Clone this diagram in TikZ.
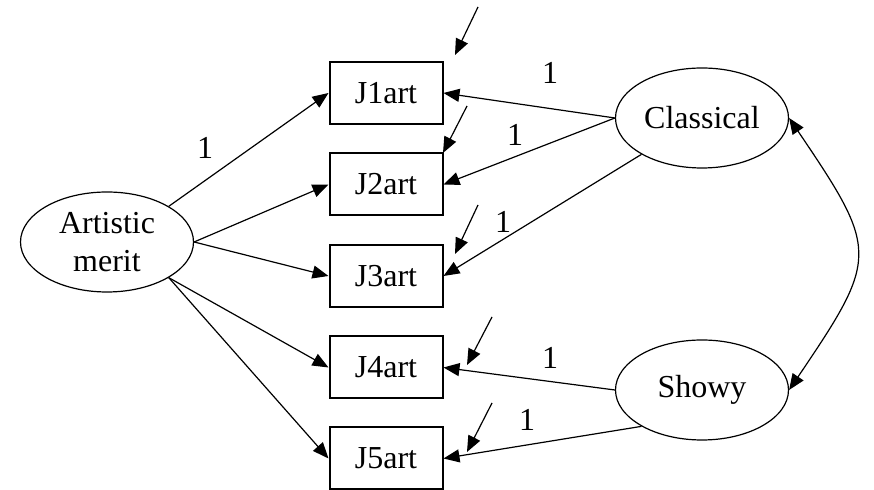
\documentclass[tikz,border=0pt]{standalone}
\usepackage{fontspec}
\setmainfont{Liberation Serif}
\usetikzlibrary{arrows.meta,shapes.geometric}

\begin{document}
\begin{tikzpicture}[x=0.5pt,y=-0.5pt,font=\fontsize{16}{19}\selectfont,
    >={Triangle[length=8pt,width=6.5pt]},
    obsbox/.style={draw,line width=1pt,minimum width=56.5pt,minimum height=31pt,inner sep=0pt},
    latent/.style={draw,ellipse,line width=0.6pt,minimum width=86.5pt,minimum height=50pt,inner sep=0pt,align=center},
    load/.style={->,line width=0.6pt}]
\useasboundingbox (0,0) rectangle (874,490);
% latent factors
\node[latent] (art) at (107,242) {Artistic\\merit};
\node[latent] (cla) at (702,118) {Classical};
\node[latent] (sho) at (702,390) {Showy};
% judges
\foreach \i/\y in {1/93,2/184.5,3/276,4/367.5,5/458.5} {
    \node[obsbox] (j\i) at (386,\y) {J\i art};
}
% loadings
\draw[load] (art.30) -- (j1.west);
\draw[load] (art.east) -- (j2.west);
\draw[load] (art.east) -- (j3.west);
\draw[load] (art.-30) -- (j4.west);
\draw[load] (art.-30) -- (j5.west);
\draw[load] (cla.west) -- (j1.east);
\draw[load] (cla.west) -- (j2.east);
\draw[load] (cla.211) -- (j3.east);
\draw[load] (sho.west) -- (j4.east);
\draw[load] (sho.211) -- (j5.east);
\node (fix1) at (205,148) {1};
\node (fix2) at (550,73) {1};
\node (fix3) at (515,135) {1};
\node (fix4) at (503,222) {1};
\node (fix5) at (550,358) {1};
\node (fix6) at (527,420) {1};
% errors
\foreach \i/\sx/\sy/\tx/\ty in {1/478/7/455/55,2/467/106/443/153,3/478/205/455/254,4/492/317/467/365,5/492/403/467/452} {
    \coordinate (e\i) at (\sx,\sy);
    \coordinate (t\i) at (\tx,\ty);
    \draw[load] (e\i) -- (t\i);
}
% factor correlation
\draw[<->,line width=0.6pt] (cla.east) .. controls +(90,133) and +(90,-133) .. (sho.east);
\end{tikzpicture}
\end{document}
